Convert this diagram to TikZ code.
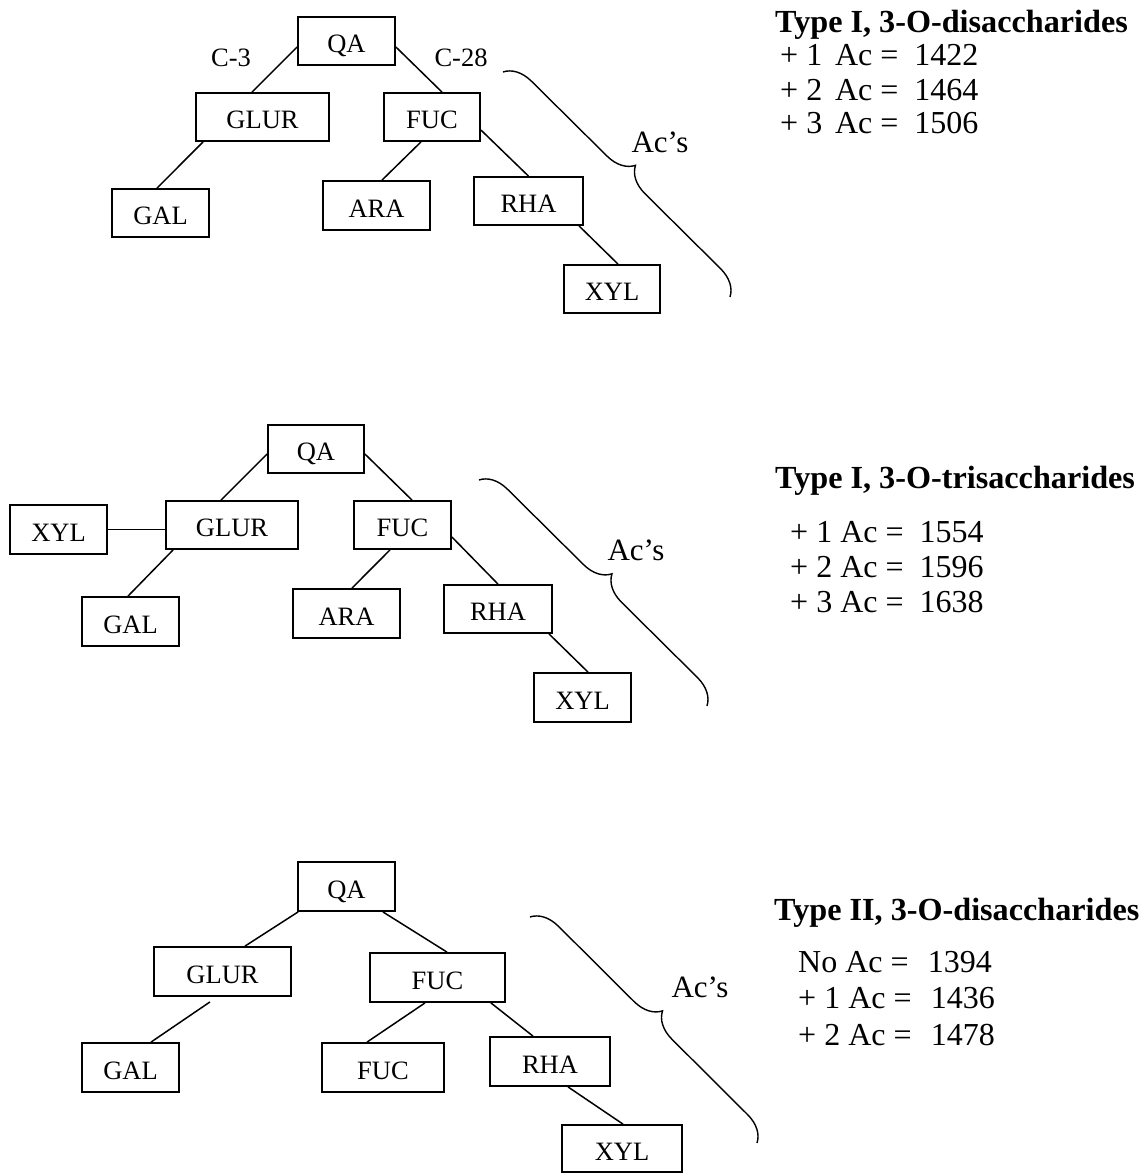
\documentclass[tikz,border=0pt]{standalone}
\usepackage{fontspec}
\setmainfont{Liberation Serif}
\usetikzlibrary{decorations.pathreplacing}
\tikzset{
  box/.style={draw, line width=1.8pt, inner sep=0pt, minimum height=48pt, text height=23.5pt, text depth=0pt, font=\fontsize{26.5}{30}\selectfont},
  link/.style={line width=1.5pt},
  brc/.style={decorate, decoration={brace, amplitude=27pt}, line width=1.4pt},
  lab/.style={font=\fontsize{26.5}{30}\selectfont, inner sep=0pt, anchor=base},
  acs/.style={font=\fontsize{31}{34}\selectfont, inner sep=0pt, anchor=base},
  ttl/.style={font=\fontsize{32.2}{36}\selectfont\bfseries, anchor=base west, inner sep=0pt},
  val/.style={font=\fontsize{32}{36}\selectfont, anchor=base west, inner sep=0pt}
}
\begin{document}
\begin{tikzpicture}[x=1pt,y=-1pt]
\useasboundingbox (0,0) rectangle (1142,1173);

% ---------------- top diagram ----------------
\node[box, minimum width=97pt] (qa1) at (346.5,41) {QA};
\node[box, minimum width=133pt] (glur1) at (262.5,117) {GLUR};
\node[box, minimum width=96pt] (fuc1) at (432,117) {FUC};
\node[box, minimum width=97pt] (gal1) at (160.5,213) {GAL};
\node[box, minimum width=107pt, minimum height=49pt] (ara1) at (376.5,205.5) {ARA};
\node[box, minimum width=109pt] (rha1) at (528.5,201) {RHA};
\node[box, minimum width=96pt] (xyl1) at (612,289) {XYL};

\draw[link] ([yshift=-6pt]qa1.west) -- ([xshift=-10.5pt]glur1.north);
\draw[link] ([yshift=-6pt]qa1.east) -- ([xshift=10pt]fuc1.north);
\draw[link] ([xshift=8pt]glur1.south west) -- ([xshift=-3.5pt]gal1.north);
\draw[link] ([xshift=-11pt]fuc1.south) -- ([xshift=5.5pt]ara1.north);
\draw[link] ([yshift=-13pt]fuc1.east) -- (rha1.north);
\draw[link] ([xshift=50.5pt]rha1.south) -- ([xshift=6pt]xyl1.north);

\node[lab] (c3) at (231,66) {C-3};
\node[lab] (c28) at (461,66) {C-28};

\coordinate (b1s) at (503,72);
\coordinate (b1e) at (730,297);
\draw[brc] (b1s) -- (b1e);
\node[acs] (ac1) at (660,152) {Ac’s};

\node[ttl] (t1) at (775,32) {Type I, 3-O-disaccharides};
\node[val] (t1a) at (780,65) {+ 1\hspace{0.4em}Ac = \hspace{0.25em}1422};
\node[val] (t1b) at (780,100) {+ 2\hspace{0.4em}Ac = \hspace{0.25em}1464};
\node[val] (t1c) at (780,133) {+ 3\hspace{0.4em}Ac = \hspace{0.25em}1506};

% ---------------- middle diagram ----------------
\node[box, minimum width=96pt] (qa2) at (316,449) {QA};
\node[box, minimum width=97pt, minimum height=49pt] (xyl2a) at (58.5,529.5) {XYL};
\node[box, minimum width=132pt] (glur2) at (232,525) {GLUR};
\node[box, minimum width=97pt] (fuc2) at (402.5,525) {FUC};
\node[box, minimum width=97pt, minimum height=49pt] (gal2) at (130.5,621.5) {GAL};
\node[box, minimum width=107pt, minimum height=49pt] (ara2) at (346.5,613.5) {ARA};
\node[box, minimum width=108pt] (rha2) at (498,609) {RHA};
\node[box, minimum width=97pt, minimum height=49pt] (xyl2) at (582.5,697.5) {XYL};

\draw[link] ([yshift=-5pt]qa2.west) -- ([xshift=-11pt]glur2.north);
\draw[link] ([yshift=-5pt]qa2.east) -- ([xshift=9.5pt]fuc2.north);
\draw[link] (xyl2a.east) -- (xyl2a.east -| glur2.west);
\draw[link] ([xshift=8pt]glur2.south west) -- ([xshift=-2.5pt]gal2.north);
\draw[link] ([xshift=-12.5pt]fuc2.south) -- ([xshift=5.5pt]ara2.north);
\draw[link] ([yshift=-12pt]fuc2.east) -- (rha2.north);
\draw[link] ([xshift=51pt]rha2.south) -- ([xshift=5.5pt]xyl2.north);

\coordinate (b2s) at (479,480);
\coordinate (b2e) at (707,706);
\draw[brc] (b2s) -- (b2e);
\node[acs] (ac2) at (636,560) {Ac’s};

\node[ttl] (t2) at (775,488) {Type I, 3-O-trisaccharides};
\node[val] (t2a) at (790,542) {+ 1 Ac = \hspace{0.25em}1554};
\node[val] (t2b) at (790,577) {+ 2 Ac = \hspace{0.25em}1596};
\node[val] (t2c) at (790,612) {+ 3 Ac = \hspace{0.25em}1638};

% ---------------- bottom diagram ----------------
\node[box, minimum width=97pt, minimum height=49pt] (qa3) at (346.5,886.5) {QA};
\node[box, minimum width=137pt, minimum height=49pt] (glur3) at (222.5,971.5) {GLUR};
\node[box, minimum width=135pt, minimum height=49pt] (fuc3) at (437.5,977.5) {FUC};
\node[box, minimum width=97pt, minimum height=49pt] (gal3) at (130.5,1067.5) {GAL};
\node[box, minimum width=122pt, minimum height=49pt] (fuc3b) at (383,1067.5) {FUC};
\node[box, minimum width=120pt, minimum height=49pt] (rha3) at (550,1061.5) {RHA};
\node[box, minimum width=120pt, minimum height=47pt] (xyl3) at (622,1148.5) {XYL};

\draw[link] ([xshift=1pt]qa3.south west) -- ([xshift=22.5pt]glur3.north);
\draw[link] ([xshift=-13pt]qa3.south east) -- ([xshift=9.5pt]fuc3.north);
\draw[link] ([xshift=-12.5pt,yshift=-5pt]glur3.south) -- ([xshift=20.5pt]gal3.north);
\draw[link] ([xshift=-12.5pt]fuc3.south) -- ([xshift=-16pt]fuc3b.north);
\draw[link] ([xshift=-15pt]fuc3.south east) -- ([xshift=-17pt]rha3.north);
\draw[link] ([xshift=18pt]rha3.south) -- ([xshift=1pt]xyl3.north);

\coordinate (b3s) at (530,917);
\coordinate (b3e) at (757,1143);
\draw[brc] (b3s) -- (b3e);
\node[acs] (ac3) at (700,997) {Ac’s};

\node[ttl] (t3) at (774,920) {Type II, 3-O-disaccharides};
\node[val] (t3a) at (798,972) {No Ac = \hspace{0.35em}1394};
\node[val] (t3b) at (798,1008) {+ 1 Ac = \hspace{0.35em}1436};
\node[val] (t3c) at (798,1045) {+ 2 Ac = \hspace{0.35em}1478};
\end{tikzpicture}
\end{document}
